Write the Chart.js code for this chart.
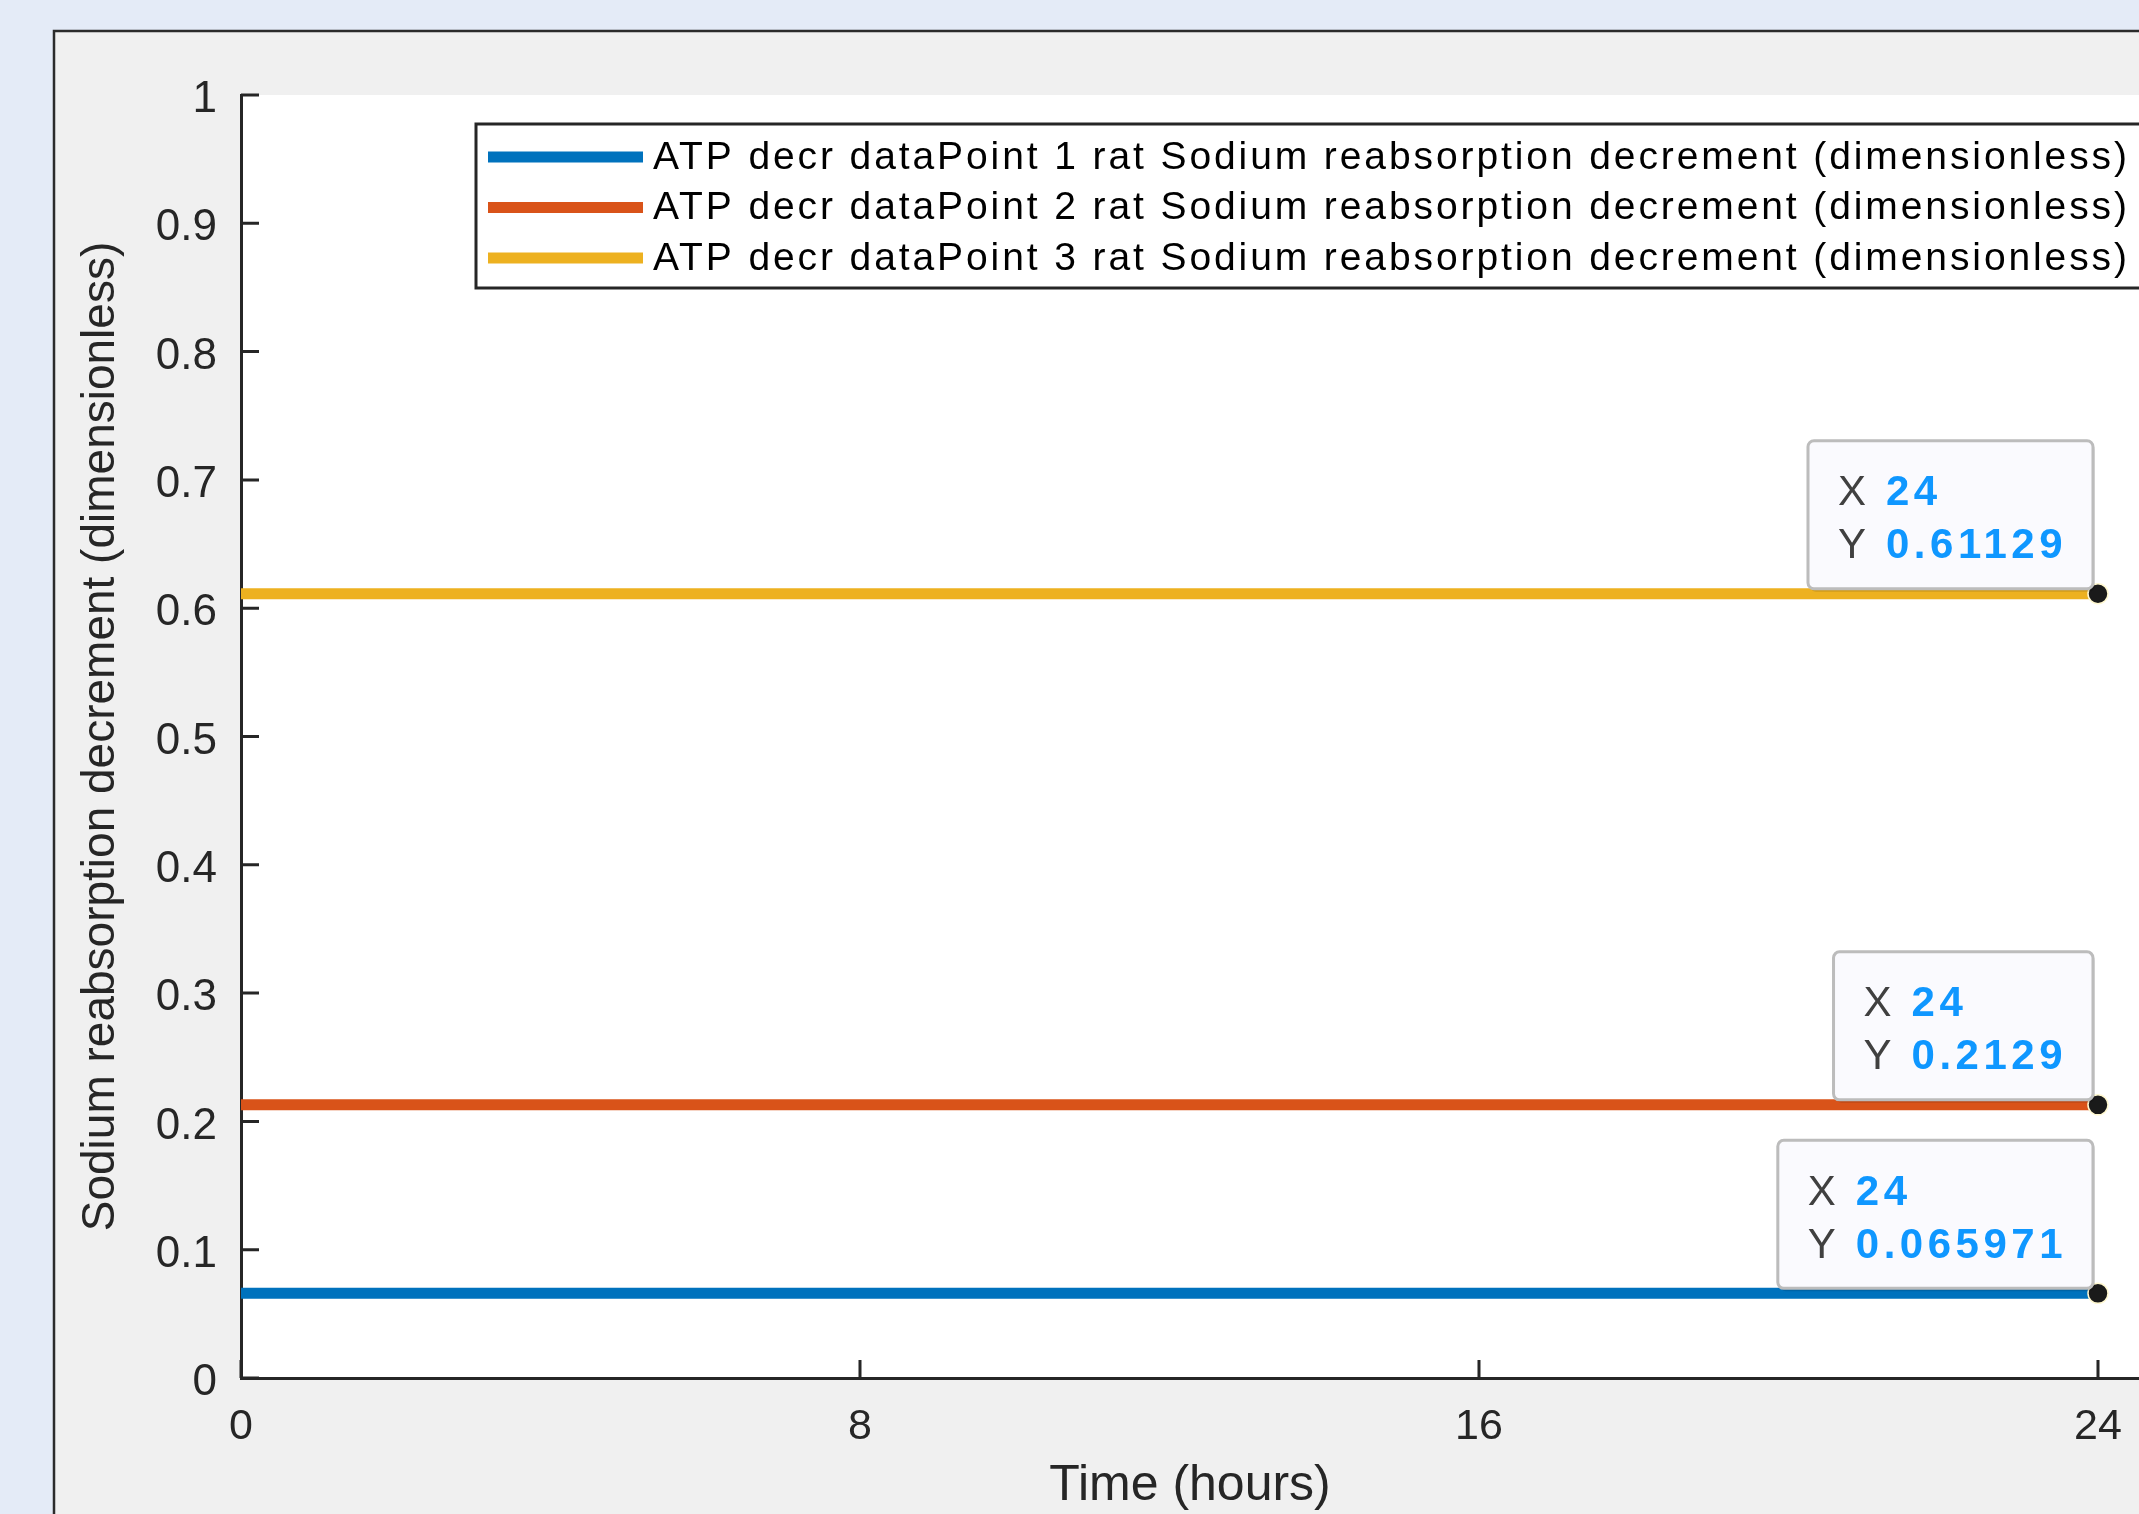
<!DOCTYPE html>
<html>
<head>
<meta charset="utf-8">
<script src="https://cdn.jsdelivr.net/npm/chart.js@4.4.1/dist/chart.umd.min.js"></script>
<style>
    html, body { margin: 0; padding: 0; background: #e4ebf7; overflow: hidden; }
    #wrap { position: absolute; left: 0; top: 0; width: 2139px; height: 1514px; }
</style>
</head>
<body>
<div id="wrap"><canvas id="chart"></canvas></div>
<script>
// values
const timeHours = [0, 24];
const seriesLabels = [
    "ATP decr dataPoint 1 rat Sodium reabsorption decrement (dimensionless)",
    "ATP decr dataPoint 2 rat Sodium reabsorption decrement (dimensionless)",
    "ATP decr dataPoint 3 rat Sodium reabsorption decrement (dimensionless)"
];
const dataPoint1 = [0.065971, 0.065971];
const dataPoint2 = [0.2129, 0.2129];
const dataPoint3 = [0.61129, 0.61129];
const seriesColors = ["#0072BD", "#D95319", "#EDB120"];
const xTicks = [0, 8, 16, 24];
const yTicks = [0, 0.1, 0.2, 0.3, 0.4, 0.5, 0.6, 0.7, 0.8, 0.9, 1];
const xAxisMax = 24.53;

const FONT = "'Liberation Sans', Arial, sans-serif";
const INK = "#262626";

function toPoints(ys) {
    return timeHours.map((t, i) => ({ x: t, y: ys[i] }));
}

function fmtTip(v) {
    return String(parseFloat(v.toPrecision(5)));
}

const lastIdx = timeHours.length - 1;

const frame = {
    id: "frame",
    beforeDraw(chart) {
        const { ctx, width, height, chartArea } = chart;
        ctx.save();
        ctx.fillStyle = "#e4ebf7";
        ctx.fillRect(0, 0, width, height);
        ctx.fillStyle = "#f0f0f0";
        ctx.fillRect(54, 31, width - 54, height - 31);
        ctx.strokeStyle = "#2b2b2b";
        ctx.lineWidth = 2.5;
        ctx.beginPath();
        ctx.moveTo(54, height);
        ctx.lineTo(54, 31);
        ctx.lineTo(width, 31);
        ctx.stroke();
        ctx.fillStyle = "#ffffff";
        ctx.fillRect(chartArea.left, chartArea.top, chartArea.right - chartArea.left, chartArea.bottom - chartArea.top);
        ctx.restore();
    },
    afterDraw(chart) {
        const { ctx, chartArea } = chart;
        const xs = chart.scales.x, ys = chart.scales.y;
        ctx.save();

        // inward tick marks
        ctx.strokeStyle = INK;
        ctx.lineWidth = 3;
        ctx.beginPath();
        ys.ticks.forEach(t => {
            const p = ys.getPixelForValue(t.value);
            ctx.moveTo(chartArea.left, p);
            ctx.lineTo(chartArea.left + 18, p);
        });
        xs.ticks.forEach(t => {
            const p = xs.getPixelForValue(t.value);
            ctx.moveTo(p, chartArea.bottom);
            ctx.lineTo(p, chartArea.bottom - 18);
        });
        ctx.stroke();

        // legend
        const lx = 476, ly = 124, lh = 164;
        ctx.fillStyle = "#ffffff";
        ctx.fillRect(lx, ly, chart.width - lx + 20, lh);
        ctx.strokeStyle = INK;
        ctx.lineWidth = 3;
        ctx.strokeRect(lx, ly, chart.width - lx + 20, lh);
        ctx.font = "39px " + FONT;
        ctx.textBaseline = "middle";
        ctx.textAlign = "left";
        chart.data.datasets.forEach((ds, i) => {
            const y = 157 + i * 50.5;
            ctx.strokeStyle = ds.borderColor;
            ctx.lineWidth = 11;
            ctx.beginPath();
            ctx.moveTo(488, y);
            ctx.lineTo(643, y);
            ctx.stroke();
            ctx.fillStyle = "#000000";
            ctx.letterSpacing = "2.9px";
            ctx.fillText(ds.label, 653, y + 1);
            ctx.letterSpacing = "0px";
        });

        // data tips at the last point of each line
        chart.data.datasets.forEach(ds => {
            const pt = ds.data[lastIdx];
            const px = xs.getPixelForValue(pt.x);
            const py = ys.getPixelForValue(pt.y);
            const xText = String(pt.x), yText = fmtTip(pt.y);
            ctx.font = "bold 42px " + FONT;
            ctx.letterSpacing = "4.5px";
            const valW = Math.max(ctx.measureText(xText).width, ctx.measureText(yText).width);
            ctx.letterSpacing = "0px";
            const bw = 30 + 32 + 16 + valW + 26;
            const bh = 148;
            const bx = px - 5 - bw, by = py - 5 - bh;
            ctx.fillStyle = "rgba(0,0,0,0.12)";
            ctx.beginPath();
            ctx.roundRect(bx + 2, by + 3, bw, bh, 6);
            ctx.fill();
            ctx.fillStyle = "#fafafe";
            ctx.strokeStyle = "#bcbcbc";
            ctx.lineWidth = 3;
            ctx.beginPath();
            ctx.roundRect(bx, by, bw, bh, 6);
            ctx.fill();
            ctx.stroke();
            ctx.textBaseline = "middle";
            ctx.font = "42px " + FONT;
            ctx.fillStyle = "#404040";
            ctx.fillText("X", bx + 30, by + 53);
            ctx.fillText("Y", bx + 30, by + 106);
            ctx.font = "bold 42px " + FONT;
            ctx.fillStyle = "#0f97ff";
            ctx.letterSpacing = "4.5px";
            ctx.fillText(xText, bx + 78, by + 53);
            ctx.fillText(yText, bx + 78, by + 106);
            ctx.letterSpacing = "0px";
        });
        ctx.restore();
    }
};

function makeSet(i, ys) {
    return {
        label: seriesLabels[i],
        data: toPoints(ys),
        borderColor: seriesColors[i],
        backgroundColor: seriesColors[i],
        borderWidth: 11,
        tension: 0,
        fill: false,
        pointRadius: c => c.dataIndex === lastIdx ? 10 : 0,
        pointBackgroundColor: "#1a1a1a",
        pointBorderColor: "#fff8d0",
        pointBorderWidth: 1.5
    };
}

new Chart(document.getElementById("chart"), {
    type: "line",
    data: {
        datasets: [makeSet(0, dataPoint1), makeSet(1, dataPoint2), makeSet(2, dataPoint3)]
    },
    options: {
        responsive: true,
        maintainAspectRatio: false,
        animation: false,
        devicePixelRatio: 1,
        events: [],
        layout: { autoPadding: false, padding: { left: 0, top: 95, right: 0, bottom: 0 } },
        plugins: { legend: { display: false }, tooltip: { enabled: false } },
        scales: {
            x: {
                type: "linear",
                min: 0,
                max: xAxisMax,
                afterBuildTicks: s => { s.ticks = xTicks.map(v => ({ value: v })); },
                afterFit: s => { s.height = 136; s.paddingLeft = 0; s.paddingRight = 0; },
                grid: { display: true, drawOnChartArea: false, drawTicks: false },
                border: { display: true, color: INK, width: 3 },
                ticks: {
                    color: INK, font: { family: FONT, size: 43 }, padding: 23,
                    maxRotation: 0, autoSkip: false, callback: v => String(v)
                },
                title: {
                    display: true, text: "Time (hours)", color: INK,
                    font: { family: FONT, size: 50 }, padding: { top: 0, bottom: -2 }
                }
            },
            y: {
                min: 0,
                max: 1,
                afterBuildTicks: s => { s.ticks = yTicks.map(v => ({ value: v })); },
                afterFit: s => { s.width = 241; s.paddingTop = 0; s.paddingBottom = 0; },
                grid: { display: true, drawOnChartArea: false, drawTicks: false },
                border: { display: true, color: INK, width: 3 },
                ticks: {
                    color: INK, font: { family: FONT, size: 44 }, padding: 24, labelOffset: 5,
                    autoSkip: false, callback: v => String(v)
                },
                title: {
                    display: true, text: "Sodium reabsorption decrement (dimensionless)", color: INK,
                    font: { family: FONT, size: 46 }, padding: { top: 74, bottom: 0 }
                }
            }
        }
    },
    plugins: [frame]
});
</script>
</body>
</html>
